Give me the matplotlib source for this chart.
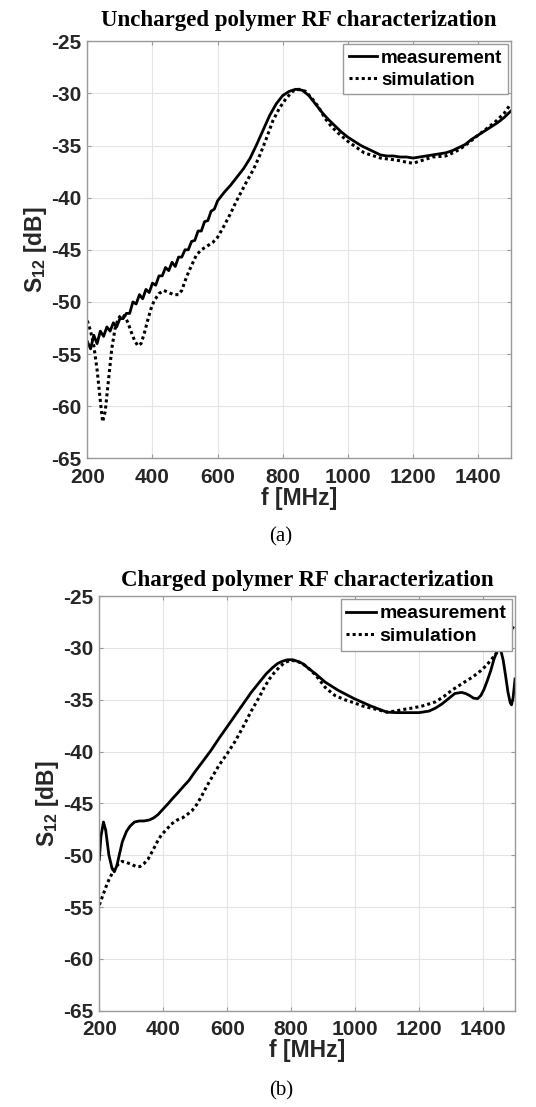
import matplotlib
matplotlib.use("Agg")
import matplotlib.pyplot as plt

plt.rcParams['font.family'] = ['Liberation Sans', 'DejaVu Sans']
plt.rcParams['mathtext.fontset'] = 'custom'
plt.rcParams['mathtext.rm'] = 'Liberation Sans'
plt.rcParams['mathtext.bf'] = 'Liberation Sans:bold'
plt.rcParams['axes.unicode_minus'] = False

# (a) uncharged polymer
f_meas_a = [200, 210, 220, 230, 240, 250, 260, 270, 280, 290, 300, 310, 320, 330, 340, 350,
            360, 370, 380, 390, 400, 410, 420, 430, 440, 450, 460, 470, 480, 490, 500, 510,
            520, 530, 540, 550, 560, 570, 580, 590, 600, 620, 640, 660, 680, 700, 720, 740,
            760, 780, 800, 820, 840, 860, 880, 900, 920, 940, 960, 980, 1000, 1020, 1040,
            1060, 1080, 1100, 1120, 1140, 1160, 1180, 1200, 1220, 1240, 1260, 1280, 1300,
            1320, 1340, 1360, 1380, 1400, 1420, 1440, 1460, 1480, 1500]
s_meas_a = [-53.8, -54.5, -53.2, -54.0, -52.8, -53.3, -52.4, -52.8, -52.0, -52.4, -51.6, -51.6,
            -51.1, -51.1, -50.0, -50.2, -49.3, -49.7, -48.8, -49.1, -48.2, -48.4, -47.5, -47.5,
            -46.7, -47.0, -46.2, -46.6, -45.7, -45.7, -45.0, -45.0, -44.2, -44.1, -43.2, -43.2,
            -42.3, -42.2, -41.3, -41.1, -40.3, -39.5, -38.8, -38.0, -37.2, -36.2, -34.9, -33.5,
            -32.1, -31.0, -30.2, -29.8, -29.6, -29.7, -30.2, -31.0, -31.8, -32.5, -33.1, -33.7,
            -34.2, -34.6, -35.0, -35.3, -35.6, -35.9, -36.0, -36.0, -36.1, -36.1, -36.2, -36.1,
            -36.0, -35.9, -35.8, -35.7, -35.5, -35.2, -34.9, -34.4, -34.0, -33.6, -33.2, -32.8,
            -32.3, -31.7]

f_sim_a = [200, 210, 220, 230, 240, 247, 255, 265, 275, 285, 295, 305, 315, 325, 335, 345, 355,
           365, 375, 385, 395, 405, 420, 435, 450, 465, 480, 490, 500, 510, 520, 535, 550, 570,
           585, 600, 620, 640, 655, 670, 690, 710, 730, 750, 770, 790, 810, 830, 850, 870, 890,
           910, 930, 950, 970, 1000, 1050, 1100, 1150, 1180, 1200, 1230, 1260, 1300, 1330,
           1360, 1400, 1450, 1480, 1500]
s_sim_a = [-51.8, -52.8, -54.2, -56.5, -59.5, -61.5, -60.5, -57.5, -54.5, -52.6, -51.6, -51.2,
           -51.4, -52.0, -52.9, -53.7, -54.2, -54.0, -53.0, -51.8, -50.7, -49.9, -49.2, -48.9,
           -49.1, -49.3, -49.3, -48.9, -48.0, -47.2, -46.5, -45.5, -45.0, -44.6, -44.3, -43.8,
           -42.7, -41.5, -40.5, -39.6, -38.4, -37.3, -35.9, -34.3, -32.6, -31.4, -30.5, -29.8,
           -29.6, -29.8, -30.5, -31.3, -32.4, -33.2, -33.8, -34.6, -35.7, -36.2, -36.4, -36.6,
           -36.7, -36.4, -36.1, -36.0, -35.6, -35.0, -34.0, -32.8, -31.9, -31.0]

# (b) charged polymer
f_meas_b = [200, 205, 213, 220, 230, 240, 247, 255, 263, 272, 285, 296, 310, 325, 340, 357, 370,
            383, 398, 413, 430, 445, 465, 480, 498, 520, 549, 575, 600, 625, 650, 675, 701, 722,
            742, 758, 772, 788, 805, 820, 835, 855, 876, 906, 947, 997, 1048, 1099, 1130, 1160,
            1200, 1231, 1252, 1272, 1292, 1312, 1333, 1345, 1358, 1370, 1383, 1393, 1403, 1414,
            1424, 1434, 1444, 1450, 1456, 1463, 1470, 1478, 1485, 1489, 1494, 1500]
s_meas_b = [-50.4, -48.2, -46.8, -47.6, -50.0, -51.3, -51.6, -51.0, -49.9, -48.7, -47.7, -47.2,
            -46.8, -46.7, -46.7, -46.6, -46.4, -46.1, -45.6, -45.1, -44.5, -44.0, -43.3, -42.8,
            -42.0, -41.1, -39.9, -38.7, -37.6, -36.5, -35.4, -34.3, -33.3, -32.5, -31.9, -31.5,
            -31.3, -31.15, -31.15, -31.3, -31.5, -32.0, -32.5, -33.3, -34.1, -34.9, -35.6, -36.2,
            -36.25, -36.25, -36.25, -36.1, -35.8, -35.4, -34.9, -34.4, -34.3, -34.4, -34.6,
            -34.85, -34.9, -34.6, -34.0, -33.1, -32.2, -31.1, -30.3, -30.1, -30.3, -31.2, -32.6,
            -34.3, -35.3, -35.5, -34.8, -33.0]

f_sim_b = [200, 212, 225, 236, 246, 258, 271, 285, 302, 315, 327, 340, 352, 368, 383, 395, 408,
           425, 444, 460, 474, 490, 505, 520, 535, 550, 575, 600, 625, 650, 675, 701, 716, 732,
           747, 762, 780, 800, 818, 835, 855, 876, 891, 906, 921, 937, 967, 997, 1022, 1048,
           1075, 1099, 1125, 1150, 1180, 1211, 1232, 1252, 1277, 1302, 1322, 1342, 1368, 1393,
           1410, 1424, 1437, 1449, 1465, 1479, 1490, 1500]
s_sim_b = [-54.8, -53.8, -52.7, -52.0, -51.4, -50.9, -50.6, -50.7, -50.9, -51.1, -51.1, -50.8,
           -50.4, -49.5, -48.6, -48.0, -47.6, -47.0, -46.6, -46.4, -46.1, -45.7, -45.1, -44.3,
           -43.4, -42.6, -41.3, -40.2, -39.0, -37.6, -36.1, -34.7, -33.8, -33.0, -32.4, -31.9,
           -31.4, -31.2, -31.3, -31.5, -32.0, -32.6, -33.2, -33.8, -34.2, -34.6, -35.0, -35.3,
           -35.6, -35.8, -36.0, -36.2, -36.1, -35.95, -35.8, -35.6, -35.4, -35.2, -34.7, -34.1,
           -33.7, -33.3, -32.8, -32.2, -31.7, -31.2, -30.7, -30.2, -29.5, -28.7, -28.2, -27.7]

xticks = [200, 400, 600, 800, 1000, 1200, 1400]
yticks = [-65, -60, -55, -50, -45, -40, -35, -30, -25]

fig = plt.figure(figsize=(5.36, 11.07), dpi=100)
ax_a = fig.add_axes([0.1629, 0.586, 0.790, 0.3767])
ax_b = fig.add_axes([0.1853, 0.087, 0.7756, 0.3746])


def style_axes(ax, title, title_pad, leg_size):
    ax.plot(f_meas, s_meas, color='black', lw=2.0, label='measurement')
    ax.plot(f_sim, s_sim, color='black', lw=2.2, ls=(0, (1, 1)), label='simulation')
    ax.set_xlim(200, 1500)
    ax.set_ylim(-65, -25)
    ax.set_xticks(xticks)
    ax.set_yticks(yticks)
    ax.grid(True, color='#e4e4e4', lw=0.8)
    ax.set_axisbelow(True)
    for sp in ax.spines.values():
        sp.set_color('#9a9a9a')
        sp.set_linewidth(1.0)
    ax.tick_params(direction='in', length=3, top=True, right=True, colors='#9a9a9a',
                   labelcolor='#262626', labelsize=15)
    ax.tick_params(axis='y', pad=4)
    ax.tick_params(axis='x', pad=7)
    for lab in ax.get_xticklabels() + ax.get_yticklabels():
        lab.set_fontweight('bold')
    ax.set_xlabel('f [MHz]', fontsize=16.5, fontweight='bold', color='#262626', labelpad=0)
    ax.set_ylabel(r'$\mathbf{S_{12}}$ [dB]', fontsize=16.5, fontweight='bold', color='#262626',
                  labelpad=2)
    ax.set_title(title, fontsize=16.5, fontweight='bold', family='Liberation Serif', pad=title_pad)
    leg = ax.legend(loc='upper right', prop={'weight': 'bold', 'size': leg_size},
                    fancybox=False, edgecolor='#9a9a9a', framealpha=1, handlelength=1.5,
                    handletextpad=0.2, borderaxespad=0.15, borderpad=0.3, labelspacing=0.25)
    leg.get_frame().set_linewidth(1.0)


f_meas, s_meas, f_sim, s_sim = f_meas_a, s_meas_a, f_sim_a, s_sim_a
style_axes(ax_a, 'Uncharged polymer RF characterization', 11, 13.5)
f_meas, s_meas, f_sim, s_sim = f_meas_b, s_meas_b, f_sim_b, s_sim_b
style_axes(ax_b, 'Charged polymer RF characterization', 7, 14)

fig.text(0.524, 1 - 537 / 1107, '(a)', family='Liberation Serif', fontsize=15,
         ha='center', va='center')
fig.text(0.524, 1 - 1091 / 1107, '(b)', family='Liberation Serif', fontsize=15,
         ha='center', va='center')

fig.savefig('out.png', dpi=100)
